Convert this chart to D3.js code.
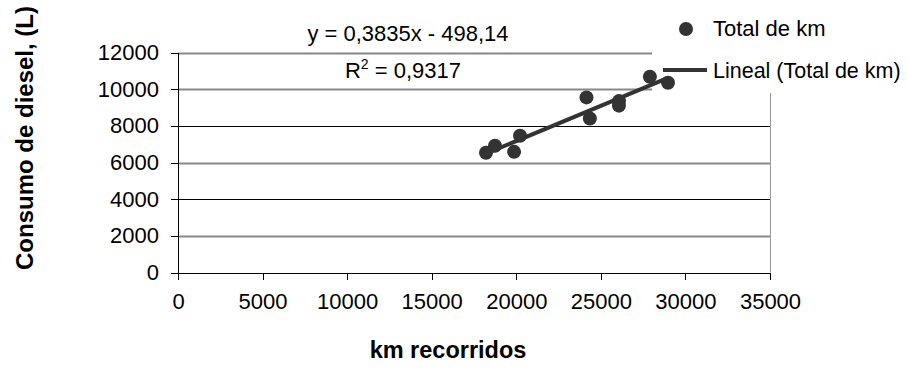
<!DOCTYPE html>
<html lang="es">
<head>
	<meta charset="UTF-8" />
	<script src="https://d3js.org/d3.v7.min.js"></script>
	<style type="text/css">
		body { margin: 0; background: #fff; }
		text { font-family: "Liberation Sans", Arial, sans-serif; fill: #000; }
	</style>
	<title>Consumo de diesel</title>
</head>
<body>
<script type="text/javascript">
	// Data
	var kmRecorridos = [18210, 18740, 19870, 20220, 24150, 24350, 26070, 26070, 27900, 28970];
	var consumoDiesel = [6530, 6910, 6580, 7460, 9550, 8400, 9350, 9100, 10680, 10350];
	var xTicks = [0, 5000, 10000, 15000, 20000, 25000, 30000, 35000];
	var yTicks = [0, 2000, 4000, 6000, 8000, 10000, 12000];
	var slope = 0.3835, intercept = -498.14;

	var W = 907, H = 385;
	var plotLeft = 178, plotRight = 770, plotTop = 52.5, plotBottom = 272.5;

	var svg = d3.select("body").append("svg")
		.attr("width", W)
		.attr("height", H);

	var xScale = d3.scaleLinear().domain([0, 35000]).range([plotLeft, plotRight]);
	var yScale = d3.scaleLinear().domain([0, 12000]).range([plotBottom, plotTop]);

	// gridlines (some look grey/thicker in the original, some black)
	svg.append("g").selectAll("line")
		.data(yTicks.filter(function(d) { return d > 0; }))
		.enter().append("line")
		.attr("x1", plotLeft).attr("x2", plotRight)
		.attr("y1", function(d) { return Math.round(yScale(d)) + 0.5; })
		.attr("y2", function(d) { return Math.round(yScale(d)) + 0.5; })
		.attr("stroke", function(d) { return (d % 4000 === 0 && d < 12000) ? "#000" : "#888"; })
		.attr("stroke-width", function(d) { return (d % 4000 === 0 && d < 12000) ? 1 : 2; });

	// right border of plot area
	svg.append("line")
		.attr("x1", plotRight + 0.5).attr("x2", plotRight + 0.5)
		.attr("y1", plotTop).attr("y2", plotBottom)
		.attr("stroke", "#999").attr("stroke-width", 1);

	// axes
	var fmt = d3.format("d");
	var xAxis = svg.append("g")
		.attr("transform", "translate(0," + plotBottom + ")")
		.call(d3.axisBottom(xScale).tickValues(xTicks).tickFormat(fmt).tickSize(7).tickPadding(14).tickSizeOuter(0));
	var yAxis = svg.append("g")
		.attr("transform", "translate(" + plotLeft + ",0)")
		.call(d3.axisLeft(yScale).tickValues(yTicks).tickFormat(fmt).tickSize(7).tickPadding(12).tickSizeOuter(0));

	[xAxis, yAxis].forEach(function(g) {
		g.selectAll("path, line").attr("stroke", "#000").attr("shape-rendering", "crispEdges");
		g.selectAll("text").style("font-family", "'Liberation Sans', Arial, sans-serif")
			.style("font-size", "22px").attr("fill", "#000");
	});

	// legend box (covers the top right of the plot)
	svg.append("rect")
		.attr("x", 652).attr("y", 0)
		.attr("width", W - 652).attr("height", 93)
		.attr("fill", "#fff");

	// trend line
	var xMin = d3.min(kmRecorridos), xMax = d3.max(kmRecorridos);
	svg.append("line")
		.attr("x1", xScale(xMin)).attr("y1", yScale(slope * xMin + intercept))
		.attr("x2", xScale(xMax)).attr("y2", yScale(slope * xMax + intercept))
		.attr("stroke", "#333").attr("stroke-width", 4);

	// points
	svg.append("g").selectAll("circle")
		.data(kmRecorridos)
		.enter().append("circle")
		.attr("cx", function(d) { return xScale(d); })
		.attr("cy", function(d, i) { return yScale(consumoDiesel[i]); })
		.attr("r", 7)
		.attr("fill", "#333");

	// equation labels
	svg.append("text")
		.attr("x", 408).attr("y", 41)
		.attr("text-anchor", "middle")
		.style("font-size", "22px")
		.text("y = 0,3835x - 498,14");

	var r2 = svg.append("text")
		.attr("x", 403).attr("y", 78)
		.attr("text-anchor", "middle")
		.style("font-size", "22px");
	r2.append("tspan").text("R");
	r2.append("tspan").attr("dy", -9).style("font-size", "14px").text("2");
	r2.append("tspan").attr("dy", 9).text(" = 0,9317");

	// legend
	svg.append("circle")
		.attr("cx", 686).attr("cy", 29).attr("r", 7).attr("fill", "#333");
	svg.append("text").attr("x", 713).attr("y", 36)
		.style("font-size", "22px").text("Total de km");
	svg.append("line")
		.attr("x1", 663).attr("x2", 707).attr("y1", 70).attr("y2", 70)
		.attr("stroke", "#333").attr("stroke-width", 4);
	svg.append("text").attr("x", 713).attr("y", 78)
		.style("font-size", "21.5px").text("Lineal (Total de km)");

	// axis titles
	svg.append("text")
		.attr("transform", "translate(33,138) rotate(-90)")
		.attr("text-anchor", "middle")
		.style("font-size", "24px").style("font-weight", "bold")
		.text("Consumo de diesel, (L)");

	svg.append("text")
		.attr("x", 448).attr("y", 358)
		.attr("text-anchor", "middle")
		.style("font-size", "23.5px").style("font-weight", "bold")
		.text("km recorridos");
</script>
</body>
</html>
